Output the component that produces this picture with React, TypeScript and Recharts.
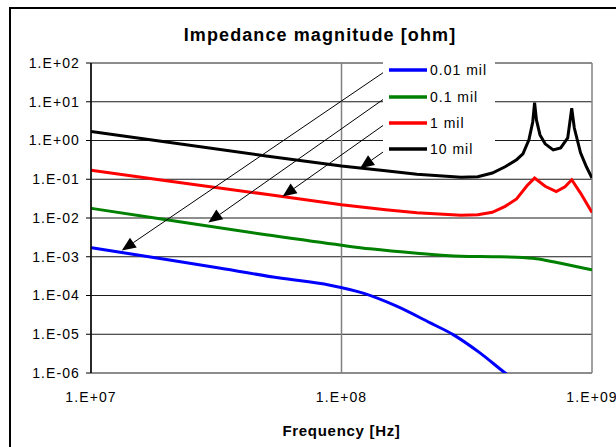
import React from 'react';
import {
  LineChart,
  Line,
  XAxis,
  YAxis,
  CartesianGrid,
  Legend,
  ReferenceLine
} from 'recharts';

const FONT = '"Liberation Sans", Arial, sans-serif';

// axis ticks
const freqTicks = [1e7, 1e8, 1e9];
const impedanceTicks = [1e2, 1e1, 1, 1e-1, 1e-2, 1e-3, 1e-4, 1e-5, 1e-6];

// 0.01 mil
const freq001 = [1e7, 2e7, 3.07e7, 5.68e7, 9e7, 1.22e8, 1.66e8, 2.25e8, 2.79e8, 3.57e8, 4.5e8, 5e8];
const z001 = [1.71e-3, 8.5e-4, 5.43e-4, 2.82e-4, 1.84e-4, 1.15e-4, 5.3e-5, 1.99e-5, 9.8e-6, 3.3e-6, 1.0e-6, 6e-7];

// 0.1 mil
const freq01 = [1e7, 2e7, 5e7, 1e8, 1.3e8, 2e8, 3e8, 4e8, 5e8, 6e8, 7e8, 8e8, 1e9];
const z01 = [0.0178, 0.009, 0.0037, 0.00198, 0.0016, 0.00123, 0.00103, 0.001, 0.00097, 0.00089, 0.00074, 0.00062, 0.00046];

// 1 mil
const freq1 = [1e7, 2e7, 5e7, 1e8, 1.5e8, 2e8, 3e8, 3.5e8, 4e8, 4.5e8, 5e8, 5.5e8, 5.9e8, 6.5e8, 7.2e8, 7.8e8, 8.3e8, 9e8, 1e9];
const z1 = [0.17, 0.091, 0.041, 0.0219, 0.0163, 0.0136, 0.0117, 0.0121, 0.014, 0.02, 0.031, 0.068, 0.107, 0.066, 0.048, 0.064, 0.097, 0.044, 0.0139];

// 10 mil
const freq10 = [1e7, 2e7, 5e7, 1e8, 1.5e8, 2e8, 3e8, 3.5e8, 4e8, 4.5e8, 5e8, 5.3e8, 5.6e8, 5.8e8, 5.9e8, 6e8, 6.2e8, 6.5e8, 7e8, 7.5e8, 8e8, 8.3e8, 8.5e8, 9e8, 9.5e8, 1e9];
const z10 = [1.71, 0.92, 0.4, 0.22, 0.166, 0.134, 0.112, 0.116, 0.145, 0.21, 0.32, 0.45, 1.04, 3.0, 9.5, 3.4, 1.39, 0.82, 0.57, 0.645, 1.17, 6.8, 2.1, 0.48, 0.21, 0.107];

// callout arrows: [label end (f, z), tip on curve (f, z)]
const calloutStart = [[1.52e8, 66], [1.52e8, 13.5], [1.52e8, 2.89], [1.52e8, 0.597]];
const calloutTip = [[1.327e7, 1.45e-3], [2.94e7, 7.66e-3], [5.82e7, 0.0358], [1.186e8, 0.193]];

const toPoints = (fs: number[], zs: number[]) => fs.map((f, i) => ({ f, z: zs[i] }));

const series = [
  { name: '0.01 mil', color: '#0000ff', data: toPoints(freq001, z001), type: 'monotone' },
  { name: '0.1 mil', color: '#008000', data: toPoints(freq01, z01), type: 'monotone' },
  { name: '1 mil', color: '#ff0000', data: toPoints(freq1, z1), type: 'linear' },
  { name: '10 mil', color: '#000000', data: toPoints(freq10, z10), type: 'linear' }
];

// 1.E+02 style labels
const sci = (v: number) => {
  const e = Math.round(Math.log10(v));
  const sign = e < 0 ? '-' : '+';
  return `1.E${sign}${String(Math.abs(e)).padStart(2, '0')}`;
};

const Arrow = (props: any) => {
  const { x1, y1, x2, y2 } = props;
  const dx = x2 - x1;
  const dy = y2 - y1;
  const len = Math.hypot(dx, dy) || 1;
  const ux = dx / len;
  const uy = dy / len;
  const headLen = 14;
  const headW = 6;
  const bx = x2 - ux * headLen;
  const by = y2 - uy * headLen;
  const pts = `${x2},${y2} ${bx - uy * headW},${by + ux * headW} ${bx + uy * headW},${by - ux * headW}`;
  return (
    <g>
      <line x1={x1} y1={y1} x2={bx} y2={by} stroke="#000" strokeWidth={1} />
      <polygon points={pts} fill="#000" />
    </g>
  );
};

const LegendBox = ({ payload }: any) => (
  <div style={{ fontFamily: FONT, fontSize: 14, letterSpacing: 1, color: '#000' }}>
    {(payload || []).map((entry: any) => (
      <div
        key={entry.value}
        style={{ height: 26.4, display: 'flex', alignItems: 'center', paddingLeft: 6 }}
      >
        <svg width={38} height={4} style={{ display: 'block' }}>
          <line x1={0} y1={2} x2={38} y2={2} stroke={entry.color} strokeWidth={3.5} />
        </svg>
        <span style={{ marginLeft: 3, lineHeight: '14px' }}>{entry.value}</span>
      </div>
    ))}
  </div>
);

export default function App() {
  return (
    <div
      style={{
        position: 'absolute',
        left: 0,
        top: 0,
        width: 616,
        height: 447,
        overflow: 'hidden',
        background: '#fff',
        fontFamily: FONT
      }}
    >
      {/* chart frame */}
      <div
        style={{
          position: 'absolute',
          left: 9,
          top: 7,
          width: 660,
          height: 500,
          border: '2px solid #000',
          boxSizing: 'border-box'
        }}
      />
      <div
        style={{
          position: 'absolute',
          left: 0,
          top: 25,
          width: 640,
          textAlign: 'center',
          fontSize: 18,
          fontWeight: 'bold',
          letterSpacing: 1.1,
          lineHeight: '20px'
        }}
      >
        Impedance magnitude [ohm]
      </div>
      <div style={{ position: 'absolute', left: 0, top: 0 }}>
        <LineChart
          width={616}
          height={447}
          margin={{ top: 63, right: 24, bottom: 0, left: 0 }}
        >
          <CartesianGrid horizontal={true} vertical={false} stroke="#1a1a1a" strokeWidth={1} />
          <CartesianGrid horizontal={false} vertical={true} stroke="#808080" strokeWidth={1.5} />
          <XAxis
            dataKey="f"
            type="number"
            scale="log"
            domain={[1e7, 1e9]}
            ticks={freqTicks}
            allowDataOverflow
            tickFormatter={sci}
            axisLine={false}
            tickLine={false}
            tickSize={0}
            tickMargin={19}
            height={74}
            tick={{ fontSize: 14, fill: '#000', fontFamily: FONT, letterSpacing: 1.1 }}
            label={{
              value: 'Frequency [Hz]',
              position: 'insideBottom',
              offset: 11,
              style: { fontSize: 15, fontWeight: 'bold', fill: '#000', fontFamily: FONT, letterSpacing: 0.7 }
            }}
          />
          <YAxis
            type="number"
            scale="log"
            domain={[1e-6, 1e2]}
            ticks={impedanceTicks}
            allowDataOverflow
            tickFormatter={sci}
            width={91}
            axisLine={{ stroke: '#000', strokeWidth: 1.5 }}
            tickLine={{ stroke: '#000' }}
            tickSize={5}
            tickMargin={6}
            tick={{ fontSize: 14, fill: '#000', fontFamily: FONT, letterSpacing: 1.1 }}
          />
          {series.map((s) => (
            <Line
              key={s.name}
              data={s.data}
              dataKey="z"
              name={s.name}
              type={s.type as any}
              stroke={s.color}
              strokeWidth={3}
              dot={false}
              activeDot={false}
              isAnimationActive={false}
            />
          ))}
          {calloutStart.map((start, i) => (
            <ReferenceLine
              key={i}
              segment={[
                { x: start[0], y: start[1] },
                { x: calloutTip[i][0], y: calloutTip[i][1] }
              ]}
              shape={Arrow}
            />
          ))}
          <Legend
            layout="vertical"
            align="center"
            verticalAlign="middle"
            content={<LegendBox />}
            wrapperStyle={{
              left: 383,
              top: 57,
              width: 112,
              height: 102,
              background: '#fff'
            }}
          />
        </LineChart>
      </div>
    </div>
  );
}
